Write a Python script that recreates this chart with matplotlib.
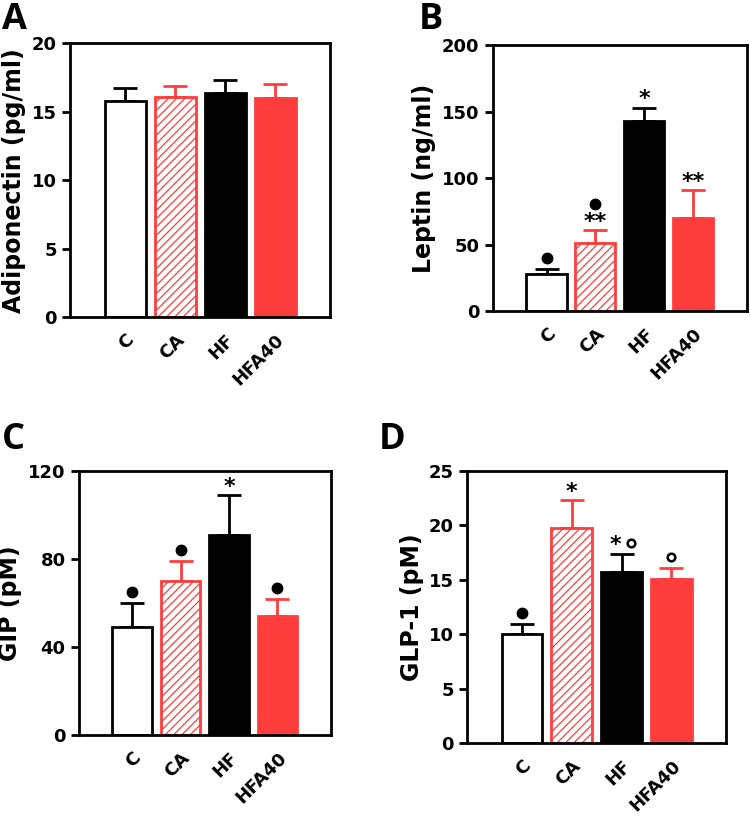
import matplotlib

matplotlib.use("Agg")

import matplotlib.pyplot as plt
from matplotlib.transforms import ScaledTranslation

groups = ["C", "CA", "HF", "HFA40"]

adiponectin = [15.8, 16.1, 16.4, 16.0]
adiponectin_err = [0.9, 0.8, 0.9, 1.0]

leptin = [28, 51, 143, 70]
leptin_err = [4, 10, 10, 21]
leptin_marks = [["dot"], ["**", "dot"], ["*"], ["**"]]

gip = [49, 70, 91, 54]
gip_err = [11, 9, 18, 8]
gip_marks = [["dot"], ["dot"], ["*"], ["dot"]]

glp1 = [10.0, 19.8, 15.7, 15.1]
glp1_err = [0.9, 2.5, 1.7, 1.0]
glp1_marks = [["dot"], ["*"], ["*o"], ["o"]]

RED = "#ff3d3d"
PX = 0.72  # points per pixel at dpi 100

plt.rcParams["font.family"] = ["DejaVu Sans"]
plt.rcParams["font.weight"] = "bold"
plt.rcParams["hatch.linewidth"] = 0.9


def put_mark(ax, i, y, kind, dx_px, dy_px):
    # dy_px: centre of the mark, in pixels above the error cap
    shift = ax.transData + ScaledTranslation(dx_px / 100, dy_px / 100,
                                             ax.figure.dpi_scale_trans)
    if kind == "dot":
        ax.plot(i, y, "o", ms=7.5, color="black", zorder=4, transform=shift)
    elif kind == "o":
        ax.plot(i, y, "o", ms=5.5, mfc="white", mec="black", mew=1.8,
                zorder=4, transform=shift)
    else:
        ax.annotate(kind, (i, y), xytext=(dx_px * PX, (dy_px - 8.5) * PX),
                    textcoords="offset points", ha="center", va="baseline",
                    fontsize=16, fontweight="bold")


def draw_panel(fig, rect, values, errors, ylim, yticks, ylabel, marks=None):
    ax = fig.add_axes(rect)
    x = list(range(len(groups)))
    faces = ["white", "white", "black", RED]
    edges = ["black", RED, "black", RED]
    hatches = [None, "////", None, None]
    for i in x:
        ax.bar(i, values[i], width=0.82, color=faces[i], edgecolor=edges[i],
               hatch=hatches[i], linewidth=2, zorder=2)
        err_col = "black" if i in (0, 2) else RED
        ax.errorbar(i, values[i], yerr=[[0], [errors[i]]], fmt="none",
                    ecolor=err_col, elinewidth=2, capsize=8.5, capthick=2, zorder=1)

    if marks:
        for i, group_marks in enumerate(marks):
            top = values[i] + errors[i]
            dy = 11
            for m in group_marks:
                if m == "*o":
                    put_mark(ax, i, top, "*", -6, dy)
                    put_mark(ax, i, top, "o", 9, dy)
                else:
                    put_mark(ax, i, top, m, 0, dy)
                dy += 15

    ax.set_xlim(-1.1, 4.1)
    ax.set_ylim(*ylim)
    ax.set_yticks(yticks)
    ax.set_xticks(x)
    ax.set_xticklabels(groups, rotation=45, ha="right", rotation_mode="anchor")
    ax.tick_params(axis="x", length=0, labelsize=13, pad=10)
    ax.tick_params(axis="y", width=2, length=6, labelsize=13)
    for lab in ax.get_xticklabels() + ax.get_yticklabels():
        lab.set_fontweight("bold")
    for spine in ax.spines.values():
        spine.set_linewidth(2)
    ax.set_ylabel(ylabel, fontsize=17, fontweight="bold", labelpad=4)
    return ax


fig = plt.figure(figsize=(7.5, 8.17), dpi=100)

draw_panel(fig, [0.0933, 0.612, 0.347, 0.335], adiponectin, adiponectin_err,
           (0, 20), [0, 5, 10, 15, 20], "Adiponectin (pg/ml)")
draw_panel(fig, [0.657, 0.619, 0.339, 0.326], leptin, leptin_err,
           (0, 200), [0, 50, 100, 150, 200], "Leptin (ng/ml)", leptin_marks)
draw_panel(fig, [0.105, 0.1004, 0.336, 0.323], gip, gip_err,
           (0, 120), [0, 40, 80, 120], "GIP (pM)", gip_marks)
draw_panel(fig, [0.623, 0.0906, 0.345, 0.333], glp1, glp1_err,
           (0, 25), [0, 5, 10, 15, 20, 25], "GLP-1 (pM)", glp1_marks)

for letter, lx, ly in [("A", 0.003, 0.997), ("B", 0.558, 0.997),
                       ("C", 0.003, 0.483), ("D", 0.505, 0.483)]:
    fig.text(lx, ly, letter, fontsize=26, fontweight="bold", va="top", ha="left",
             family=["Open Sans", "DejaVu Sans"])

fig.savefig("out.png", dpi=100)
